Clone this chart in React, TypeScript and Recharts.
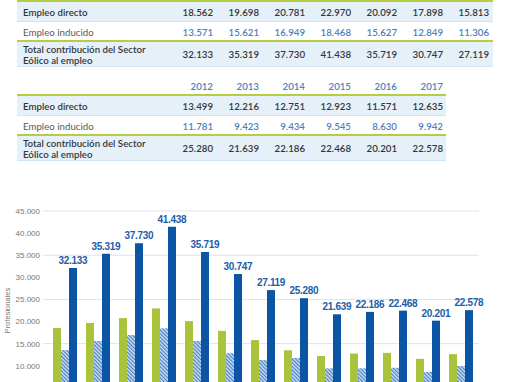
import { BarChart, Bar, XAxis, YAxis, CartesianGrid, LabelList, Label } from 'recharts'

const anios = ['2005', '2006', '2007', '2008', '2009', '2010', '2011', '2012', '2013', '2014', '2015', '2016', '2017']
const empleoDirecto = [18562, 19698, 20781, 22970, 20092, 17898, 15813, 13499, 12216, 12751, 12923, 11571, 12635]
const empleoInducido = [13571, 15621, 16949, 18468, 15627, 12849, 11306, 11781, 9423, 9434, 9545, 8630, 9942]
const totalEmpleo = [32133, 35319, 37730, 41438, 35719, 30747, 27119, 25280, 21639, 22186, 22468, 20201, 22578]
// only the ticks that fall inside the visible window
const yTicks = [10000, 15000, 20000, 25000, 30000, 35000, 40000, 45000]

const fmt = (v: number | string) => String(v).replace(/\B(?=(\d{3})+(?!\d))/g, '.')

const VERDE = '#b6cd43'
const FONDO = '#e5f0f9'
const LINEA = '#d2e3f1'
const AZUL_TXT = '#4a7fc2'
const GRIS_TXT = '#363636'
const FUENTE = 'Lato, "Liberation Sans", sans-serif'

const colDerecha = (i: number) => 213 + 46 * i

function Texto({ x, y, txt, align, color, weight, w = 200 }: any) {
  const style: any = {
    position: 'absolute',
    top: y - 7,
    height: 14,
    lineHeight: '14px',
    fontSize: 9.7,
    fontFamily: FUENTE,
    color,
    fontWeight: weight,
    whiteSpace: 'nowrap',
  }
  if (align === 'right') {
    style.left = x - w
    style.width = w
    style.textAlign = 'right'
  } else {
    style.left = x
  }
  return <div style={style}>{txt}</div>
}

function Tabla({ top, desde, hasta, ancho, cabecera }: any) {
  const idx = anios.slice(desde, hasta).map((_, k) => desde + k)
  const caja = (y: number, h: number, bg: string) => (
    <div style={{ position: 'absolute', left: 17, width: ancho, top: top + y, height: h, background: bg }} />
  )
  return (
    <>
      {cabecera &&
        idx.map((i, k) => (
          <Texto key={'h' + i} x={colDerecha(k)} y={top - 8} txt={anios[i]} align="right" color={AZUL_TXT} weight={600} />
        ))}
      {caja(0, 2, VERDE)}
      {caja(2, 19, FONDO)}
      {caja(21, 1, LINEA)}
      {caja(40, 2, VERDE)}
      {caja(42, 24, FONDO)}
      {caja(66, 1, LINEA)}
      <Texto x={23} y={top + 12} txt="Empleo directo" color={GRIS_TXT} weight={600} />
      <Texto x={23} y={top + 32} txt="Empleo inducido" color="#5a5a5a" weight={400} />
      <Texto x={23} y={top + 49} txt="Total contribución del Sector" color={GRIS_TXT} weight={600} />
      <Texto x={23} y={top + 60} txt="Eólico al empleo" color={GRIS_TXT} weight={600} />
      {idx.map((i, k) => (
        <div key={i}>
          <Texto x={colDerecha(k)} y={top + 12} txt={fmt(empleoDirecto[i])} align="right" color={GRIS_TXT} weight={600} />
          <Texto x={colDerecha(k)} y={top + 32} txt={fmt(empleoInducido[i])} align="right" color={AZUL_TXT} weight={600} />
          <Texto x={colDerecha(k)} y={top + 54} txt={fmt(totalEmpleo[i])} align="right" color={GRIS_TXT} weight={600} />
        </div>
      ))}
    </>
  )
}

const datos = anios.map((anio, i) => ({
  anio,
  directo: empleoDirecto[i],
  inducido: empleoInducido[i],
  total: totalEmpleo[i],
}))

export default function App() {
  return (
    <div style={{ position: 'fixed', left: 0, top: 0, width: 510, height: 382, overflow: 'hidden', background: '#fff' }}>
      <Tabla top={0} desde={0} hasta={7} ancho={476} />
      <Tabla top={94} desde={7} hasta={13} ancho={429} cabecera />
      <div style={{ position: 'absolute', left: 0, top: 200 }}>
        <BarChart
          width={510}
          height={250}
          data={datos}
          margin={{ top: 11, right: 31, bottom: 10, left: 0 }}
          barGap={0}
        >
          <defs>
            <pattern id="rayado" width="2.6" height="2.6" patternUnits="userSpaceOnUse" patternTransform="rotate(-45)">
              <rect width="2.6" height="2.6" fill="#cfe0f3" />
              <line x1="0.6" y1="0" x2="0.6" y2="2.6" stroke="#3e77c2" strokeWidth="1.1" />
            </pattern>
          </defs>
          <CartesianGrid vertical={false} stroke="#dde3ec" />
          <XAxis dataKey="anio" axisLine={false} tickLine={false} height={30} padding={{ left: 5, right: 2 }} tick={false} />
          <YAxis
            width={43}
            domain={[0, 45000]}
            ticks={yTicks}
            tickFormatter={fmt}
            axisLine={false}
            tickLine={false}
            tickSize={0}
            tickMargin={3}
            tick={{ fontSize: 8, fill: '#777', fontFamily: 'Liberation Sans' }}
          >
            <Label
              value="Profesionales"
              angle={-90}
              position="insideLeft"
              offset={7}
              style={{ textAnchor: 'middle', fontSize: 7.5, fill: '#777', fontFamily: 'Liberation Sans' }}
            />
          </YAxis>
          <Bar dataKey="directo" fill="#a9c43c" barSize={8} isAnimationActive={false} />
          <Bar dataKey="inducido" fill="url(#rayado)" barSize={8} isAnimationActive={false} />
          <Bar dataKey="total" fill="#0b55a4" barSize={8} isAnimationActive={false}>
            <LabelList
              dataKey="total"
              position="top"
              offset={4}
              formatter={(v: any) => fmt(v)}
              fill="#1c5ea9"
              fontSize={10}
              fontWeight="bold"
              fontFamily="Liberation Sans"
              letterSpacing={-0.3}
            />
          </Bar>
        </BarChart>
      </div>
    </div>
  )
}
